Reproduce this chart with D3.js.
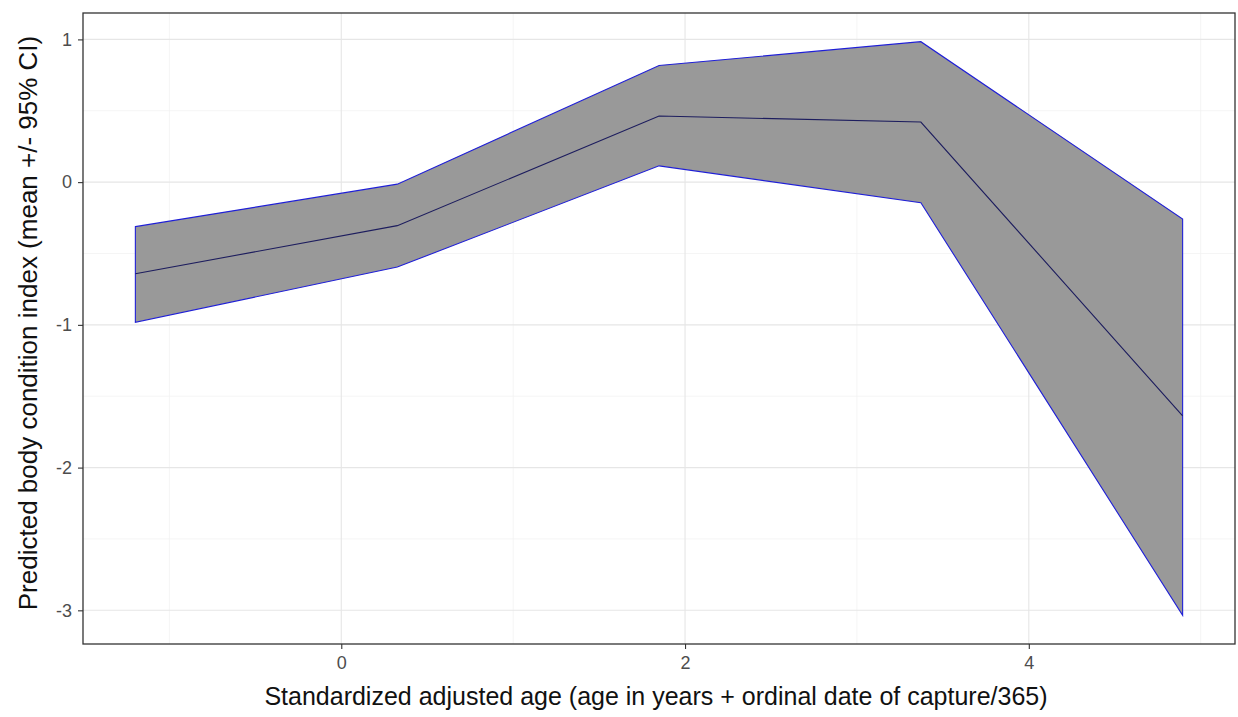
<!DOCTYPE html>
<html>
<head>
<meta charset="utf-8">
<script src="https://cdn.jsdelivr.net/npm/d3@7"></script>
<style>
  body { margin: 0; background: #fff; }
  text { font-family: "Liberation Sans", Arial, sans-serif; }
</style>
</head>
<body>
<div id="chart"></div>
<script>
// data
const age = [-1.198, 0.326, 1.849, 3.372, 4.895];
const meanBci = [-0.642, -0.305, 0.463, 0.421, -1.638];
const upperBci = [-0.312, -0.014, 0.817, 0.984, -0.258];
const lowerBci = [-0.982, -0.595, 0.114, -0.144, -3.035];
const xTicks = [0, 2, 4];
const yTicks = [1, 0, -1, -2, -3];
const xMinor = [-1, 1, 3, 5];
const yMinor = [0.5, -0.5, -1.5, -2.5];

const width = 1238, height = 717;
const margin = { top: 13, right: 3, bottom: 73, left: 83 };
const iw = width - margin.left - margin.right;
const ih = height - margin.top - margin.bottom;

const rows = age.map((a, i) => ({ x: a, m: meanBci[i], lo: lowerBci[i], hi: upperBci[i] }));

// ggplot-style 5% expansion
function expand(ext) {
  const pad = (ext[1] - ext[0]) * 0.05;
  return [ext[0] - pad, ext[1] + pad];
}

const x = d3.scaleLinear()
  .domain(expand(d3.extent(age)))
  .range([0, iw]);
const y = d3.scaleLinear()
  .domain(expand([d3.min(lowerBci), d3.max(upperBci)]))
  .range([ih, 0]);

const svg = d3.select("#chart").append("svg")
  .attr("width", width)
  .attr("height", height);

const g = svg.append("g").attr("transform", `translate(${margin.left},${margin.top})`);

// grid
g.selectAll(".xminor").data(xMinor).enter().append("line")
  .attr("x1", d => x(d)).attr("x2", d => x(d))
  .attr("y1", 0).attr("y2", ih)
  .attr("stroke", "#f2f2f2").attr("stroke-width", 0.8);
g.selectAll(".yminor").data(yMinor).enter().append("line")
  .attr("x1", 0).attr("x2", iw)
  .attr("y1", d => y(d)).attr("y2", d => y(d))
  .attr("stroke", "#f2f2f2").attr("stroke-width", 0.8);
g.selectAll(".xmajor").data(xTicks).enter().append("line")
  .attr("x1", d => x(d)).attr("x2", d => x(d))
  .attr("y1", 0).attr("y2", ih)
  .attr("stroke", "#e6e6e6").attr("stroke-width", 1.1);
g.selectAll(".ymajor").data(yTicks).enter().append("line")
  .attr("x1", 0).attr("x2", iw)
  .attr("y1", d => y(d)).attr("y2", d => y(d))
  .attr("stroke", "#e6e6e6").attr("stroke-width", 1.1);

// ribbon
const area = d3.area()
  .x(d => x(d.x))
  .y0(d => y(d.lo))
  .y1(d => y(d.hi));

g.append("path")
  .datum(rows)
  .attr("d", area)
  .attr("fill", "#999999")
  .attr("stroke", "#1f1fd6")
  .attr("stroke-width", 1.1);

// mean line
const line = d3.line()
  .x(d => x(d.x))
  .y(d => y(d.m));

g.append("path")
  .datum(rows)
  .attr("d", line)
  .attr("fill", "none")
  .attr("stroke", "#1d1d5e")
  .attr("stroke-width", 1.1);

// axes (plain hyphen for negatives, like R)
const fmt = d => String(d);
const xAxis = g.append("g")
  .attr("transform", `translate(0,${ih})`)
  .call(d3.axisBottom(x).tickValues(xTicks).tickSize(5).tickPadding(7).tickFormat(fmt));
const yAxis = g.append("g")
  .call(d3.axisLeft(y).tickValues(yTicks).tickSize(5).tickPadding(6).tickFormat(fmt));

[xAxis, yAxis].forEach(a => {
  a.select(".domain").remove();
  a.selectAll(".tick line").attr("stroke", "#333").attr("stroke-width", 1.1);
  a.selectAll(".tick text")
    .attr("fill", "#4d4d4d")
    .style("font-size", "18px")
    .style("font-family", "'Liberation Sans', Arial, sans-serif");
});

// panel border
g.append("rect")
  .attr("width", iw).attr("height", ih)
  .attr("fill", "none")
  .attr("stroke", "#333333")
  .attr("stroke-width", 1.3);

// titles
svg.append("text")
  .attr("x", 656)
  .attr("y", height - 12)
  .attr("text-anchor", "middle")
  .attr("fill", "#111")
  .style("font-size", "25px")
  .text("Standardized adjusted age (age in years + ordinal date of capture/365)");

svg.append("text")
  .attr("transform", `translate(37,${323}) rotate(-90)`)
  .attr("text-anchor", "middle")
  .attr("fill", "#111")
  .style("font-size", "26px")
  .text("Predicted body condition index (mean +/- 95% CI)");
</script>
</body>
</html>
